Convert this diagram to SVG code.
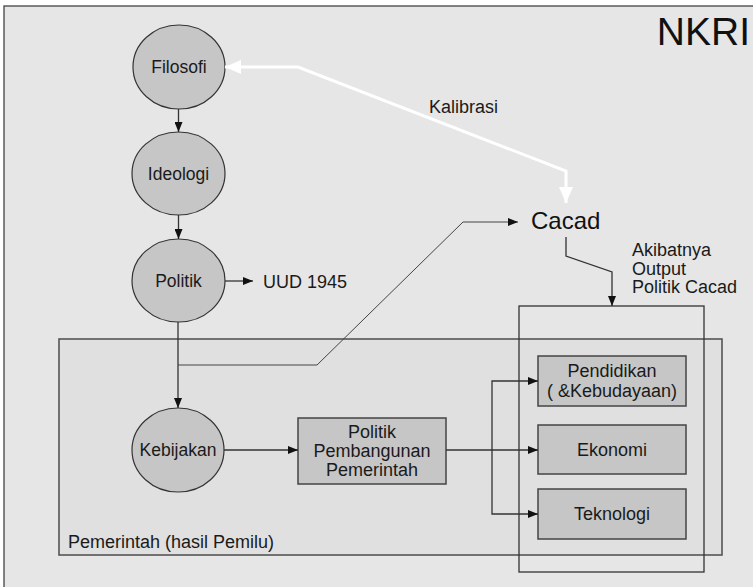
<svg xmlns="http://www.w3.org/2000/svg" width="753" height="587" viewBox="0 0 753 587">
<defs>
<style>
text{font-family:"Liberation Sans",Arial,sans-serif;fill:#1a1a1a}
.c{fill:#c6c6c6;stroke:#333;stroke-width:1.2}
.b{fill:#c6c6c6;stroke:#444;stroke-width:1.5}
.ln{fill:none;stroke:#333;stroke-width:1.3}
.thin{fill:none;stroke:#444;stroke-width:1}
.wh{fill:none;stroke:#fff;stroke-width:3}
.lbl{font-size:17.5px;text-anchor:middle}
.bl{font-size:18px;text-anchor:middle}
.t{font-size:18px}
</style>
<marker id="ah" markerWidth="10" markerHeight="8" refX="10" refY="4" orient="auto" markerUnits="userSpaceOnUse">
<path d="M0,0 L10,4 L0,8 Z" fill="#111"/>
</marker>
<marker id="wah" markerWidth="16" markerHeight="14" refX="16" refY="7" orient="auto-start-reverse" markerUnits="userSpaceOnUse">
<path d="M0,0 L16,7 L0,14 Z" fill="#fff"/>
</marker>
</defs>
<rect x="0" y="0" width="753" height="587" fill="#fff"/>
<rect x="4" y="6" width="760" height="600" fill="#e6e6e6" stroke="#444" stroke-width="1.3"/>
<g id="nkri"><text x="750" y="45" font-size="39" text-anchor="end" style="fill:#111">NKRI</text></g>
<g id="pemerintah">
<rect x="59" y="339" width="663" height="216" fill="#e0e0e0" stroke="#555" stroke-width="1.6"/>
<text x="68" y="548" class="t">Pemerintah (hasil Pemilu)</text>
</g>
<g id="output-box">
<rect x="519" y="306" width="185" height="266" fill="none" stroke="#333" stroke-width="1.3"/>
</g>
<g id="filosofi"><ellipse cx="179" cy="67" rx="46" ry="42" class="c"/><text x="179" y="73" class="lbl">Filosofi</text></g>
<g id="ideologi"><ellipse cx="178.5" cy="173.5" rx="46.5" ry="41.5" class="c"/><text x="178.5" y="180" class="lbl">Ideologi</text></g>
<g id="politik"><ellipse cx="178.5" cy="280.5" rx="46.5" ry="41.5" class="c"/><text x="178.5" y="287" class="lbl">Politik</text></g>
<g id="kebijakan"><ellipse cx="178" cy="450" rx="46" ry="42" class="c"/><text x="178" y="456" class="lbl">Kebijakan</text></g>
<g id="uud"><text x="263" y="288" class="t">UUD 1945</text></g>
<g id="kalibrasi"><text x="429" y="113" class="t">Kalibrasi</text></g>
<g id="cacad"><text x="531" y="229" font-size="24" style="fill:#111">Cacad</text></g>
<g id="akibatnya"><text x="632" y="256" class="t">Akibatnya</text><text x="632" y="274.5" class="t">Output</text><text x="632" y="293" class="t">Politik Cacad</text></g>
<g id="ppp"><rect x="298" y="418" width="148" height="66" class="b"/>
<text x="372" y="438" class="bl">Politik</text><text x="372" y="457" class="bl">Pembangunan</text><text x="372" y="475.5" class="bl">Pemerintah</text></g>
<g id="pendidikan"><rect x="538" y="356" width="148" height="50" class="b"/>
<text x="612" y="377" class="bl">Pendidikan</text><text x="612" y="397" class="bl">( &amp;Kebudayaan)</text></g>
<g id="ekonomi"><rect x="538" y="425" width="148" height="49" class="b"/><text x="612" y="455.5" class="bl">Ekonomi</text></g>
<g id="teknologi"><rect x="538" y="489" width="148" height="50" class="b"/><text x="612" y="520" class="bl">Teknologi</text></g>
<g id="connectors">
<line x1="178.5" y1="109" x2="178.5" y2="132" class="ln" marker-end="url(#ah)"/>
<line x1="178.5" y1="215" x2="178.5" y2="239" class="ln" marker-end="url(#ah)"/>
<line x1="225" y1="281" x2="253" y2="281" class="ln" marker-end="url(#ah)"/>
<line x1="178" y1="322" x2="178" y2="408" class="ln" marker-end="url(#ah)"/>
<polyline points="178,365 317,365 463,222 518,222" class="thin" marker-end="url(#ah)"/>
<polyline points="566,237 566,256 612,272 612,306" class="ln" marker-end="url(#ah)"/>
<line x1="224" y1="450" x2="298" y2="450" class="ln" marker-end="url(#ah)"/>
<polyline points="446,450 492,450 538,450" class="ln" marker-end="url(#ah)"/>
<polyline points="492,450 492,381 538,381" class="ln" marker-end="url(#ah)"/>
<polyline points="492,450 492,514 538,514" class="ln" marker-end="url(#ah)"/>
<polyline points="566,203 566,171 298,67 225,67" class="wh" marker-start="url(#wah)" marker-end="url(#wah)"/>
</g>
</svg>
